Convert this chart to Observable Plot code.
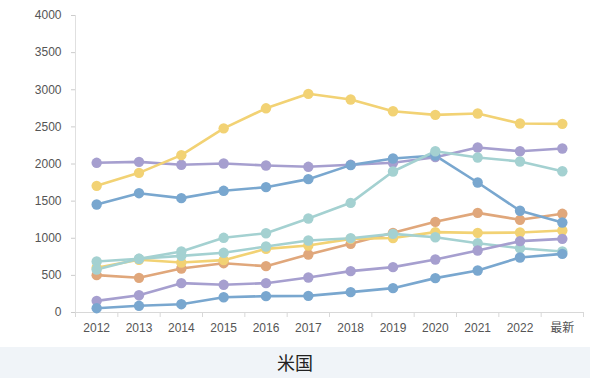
<!DOCTYPE html>
<html><head><meta charset="utf-8">
<script src="https://cdn.jsdelivr.net/npm/d3@7"></script>
<script src="https://cdn.jsdelivr.net/npm/@observablehq/plot@0.6"></script>
<style>
html,body{margin:0;padding:0;background:#fff;}
#chart svg{display:block;}
#title{height:31px;background:#f0f4f8;text-align:center;font:18px "Noto Sans CJK JP",sans-serif;line-height:31px;color:#222;width:590px;}
</style>
</head><body>
<div id="chart"></div>
<div id="title">米国</div>
<script>
const categories = ["2012","2013","2014","2015","2016","2017","2018","2019","2020","2021","2022","最新"];
const yTicks = [0,500,1000,1500,2000,2500,3000,3500,4000];
const title = "米国";

const orange  = [503,467,593,664,624,781,925,1073,1221,1342,1248,1329];
const yellowLow = [602,710,673,705,857,902,992,1004,1082,1073,1077,1104];
const tealLow = [687,723,763,804,889,970,1001,1059,1014,933,866,822];
const purpleLow = [157,233,395,373,395,471,557,611,714,835,961,992];
const blueLow = [58,90,112,206,220,224,274,328,463,566,741,790];
const purpleHigh = [2016,2029,1989,2007,1980,1962,1989,2016,2092,2222,2172,2209];
const blueHigh = [1455,1607,1540,1639,1688,1796,1985,2074,2114,1751,1370,1212];
const tealHigh = [579,723,821,1006,1068,1266,1477,1899,2172,2088,2034,1903];
const yellowHigh = [1706,1881,2119,2480,2750,2945,2869,2711,2662,2680,2545,2541];

const seriesList = [
  {name:"orange", values: orange, color:"#e0a77b"},
  {name:"yellowLow", values: yellowLow, color:"#f2d274"},
  {name:"tealLow", values: tealLow, color:"#a4d1d1"},
  {name:"purpleLow", values: purpleLow, color:"#a69fcf"},
  {name:"blueLow", values: blueLow, color:"#79a7cf"},
  {name:"purpleHigh", values: purpleHigh, color:"#a69fcf"},
  {name:"blueHigh", values: blueHigh, color:"#79a7cf"},
  {name:"tealHigh", values: tealHigh, color:"#a4d1d1"},
  {name:"yellowHigh", values: yellowHigh, color:"#f2d274"}
];

const data = seriesList.flatMap(s => s.values.map((v,i) => ({series:s.name, i, value:v, color:s.color})));
const idx = categories.map((_,i)=>i);
const edges = d3.range(categories.length+1).map(i=>i-0.5);
const font = '"Liberation Sans","Noto Sans CJK JP",sans-serif';

const chart = Plot.plot({
  width: 590, height: 347,
  marginLeft: 75, marginRight: 7, marginTop: 15, marginBottom: 35,
  style: {fontFamily: font, fontSize: "12px", color: "#555", background: "#fff"},
  x: {type: "linear", domain: [-0.5, categories.length-0.5]},
  y: {domain: [0,4000]},
  color: {type: "identity"},
  marks: [
    Plot.ruleX([-0.5], {stroke:"#e0e0e0"}),
    Plot.ruleY([0], {stroke:"#d8d8d8"}),
    Plot.axisY({ticks: yTicks, tickSize: 4, tickPadding: 10, stroke:"#ccc", fill:"#555", label:null, fontSize: 12, tickFormat: d => String(d)}),
    Plot.axisX({ticks: edges, tickSize: 5, stroke:"#d8d8d8", tickFormat: () => "", label:null}),
    Plot.axisX({ticks: idx, tickSize: 0, tickPadding: 11, tickFormat: i => categories[i], fill:"#555", label:null, fontSize: 12}),
    ...seriesList.map(s => Plot.line(data.filter(d=>d.series===s.name), {x:"i", y:"value", stroke:"color", strokeWidth:2.6})),
    ...seriesList.map(s => Plot.dot(data.filter(d=>d.series===s.name), {x:"i", y:"value", fill:"color", r:5.2, stroke:"none"}))
  ]
});
document.getElementById("chart").appendChild(chart);
document.getElementById("title").textContent = title;
</script>
</body></html>
